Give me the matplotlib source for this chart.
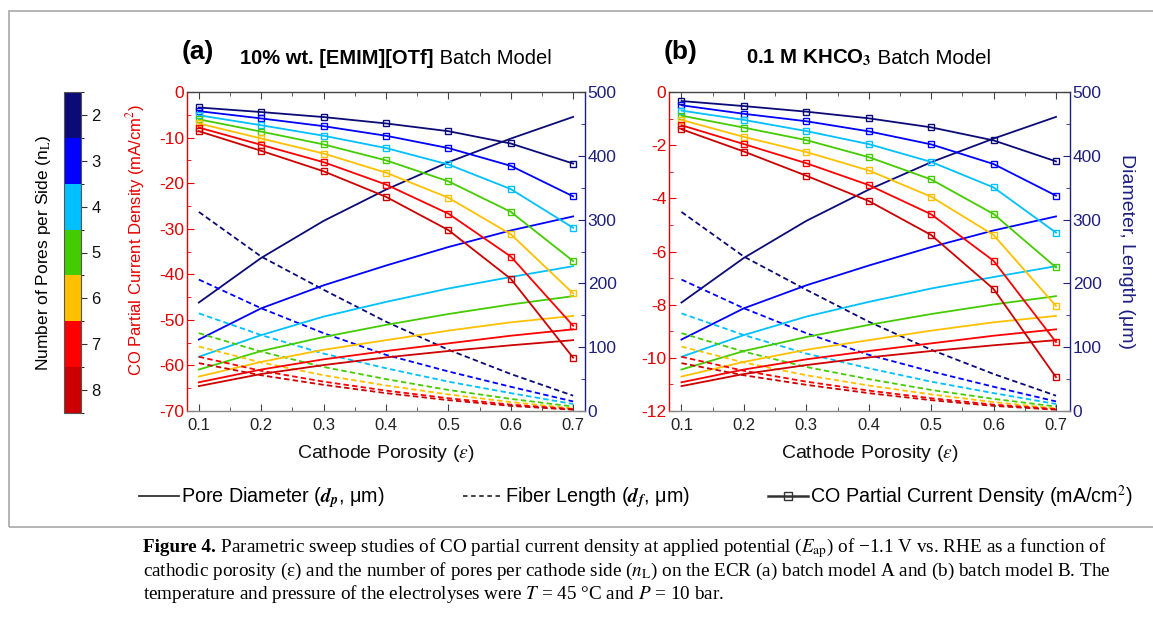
import numpy as np
import matplotlib
matplotlib.use("Agg")
import matplotlib.pyplot as plt
from matplotlib.colors import ListedColormap, BoundaryNorm
from matplotlib.lines import Line2D
from matplotlib.patches import Rectangle
from matplotlib.ticker import MultipleLocator
import matplotlib.colorbar as mcolorbar

plt.rcParams['font.family'] = ['Liberation Sans', 'DejaVu Sans']
plt.rcParams['mathtext.fontset'] = 'stix'

# data
porosity = [0.1, 0.2, 0.3, 0.4, 0.5, 0.6, 0.7]
n_pores = [2, 3, 4, 5, 6, 7, 8]
colors = ['#0b0b78', '#0000ff', '#00c0ff', '#44cc00', '#ffc000', '#ff0000', '#cc0000']

# CO partial current density (mA/cm2), panel (a), one row per n_L
cd_a = [[-3.4, -4.4, -5.5, -6.9, -8.6, -11.3, -15.7],
        [-4.2, -5.8, -7.5, -9.6, -12.3, -16.2, -22.9],
        [-5.1, -7.3, -9.6, -12.3, -15.9, -21.3, -29.8],
        [-6.0, -8.7, -11.5, -15.0, -19.6, -26.3, -37.1],
        [-6.9, -10.2, -13.5, -17.7, -23.2, -31.2, -44.2],
        [-7.8, -11.6, -15.4, -20.3, -26.7, -36.1, -51.3],
        [-8.6, -12.9, -17.4, -23.0, -30.3, -41.0, -58.3]]

# CO partial current density (mA/cm2), panel (b)
cd_b = [[-0.34, -0.53, -0.74, -0.99, -1.33, -1.82, -2.61],
        [-0.50, -0.82, -1.10, -1.48, -1.97, -2.71, -3.90],
        [-0.70, -1.05, -1.47, -1.96, -2.63, -3.59, -5.29],
        [-0.89, -1.34, -1.81, -2.45, -3.29, -4.59, -6.60],
        [-1.05, -1.69, -2.26, -2.95, -3.94, -5.38, -8.05],
        [-1.25, -1.96, -2.68, -3.50, -4.60, -6.35, -9.41],
        [-1.40, -2.24, -3.15, -4.10, -5.38, -7.41, -10.73]]

# pore diameter d_p (um)
pore_diam = [[170, 240, 298, 347, 390, 427, 461],
             [112, 161, 197, 228, 257, 283, 305],
             [85, 119, 148, 171, 192, 210, 227],
             [65, 94, 116, 135, 152, 167, 180],
             [54, 77, 96, 111, 126, 139, 149],
             [45, 65, 81, 94, 106, 118, 128],
             [39, 58, 72, 84, 94, 103, 111]]

# fiber length d_f (um)
fiber_len = [[312, 242, 190, 140, 96, 58, 24],
             [206, 161, 122, 88, 62, 38, 15],
             [153, 119, 90, 67, 46, 28, 11],
             [122, 93, 69, 50, 33, 19, 7],
             [101, 76, 56, 40, 26, 14, 4],
             [85, 63, 46, 32, 20, 10, 3],
             [75, 56, 41, 28, 17, 8, 2]]

RED = '#e60000'
NAVY = '#1f1f80'
W, H = 1153, 624

fig = plt.figure(figsize=(W / 100, H / 100), dpi=100)


def panel(px_left, px_right, cd, ylim, ymajor, yminor, xlim, left_label, right_label):
    ax = fig.add_axes([px_left / W, (H - 411) / H, (px_right - px_left) / W, 319 / H])
    ax2 = ax.twinx()
    for i in range(len(n_pores)):
        ax2.plot(porosity, pore_diam[i], '-', color=colors[i], lw=1.3)
        ax2.plot(porosity, fiber_len[i], '--', dashes=(3, 1.8), color=colors[i], lw=1.3)
        ax.plot(porosity, cd[i], '-', marker='s', mfc='none', mec=colors[i], ms=5, mew=1.0,
                color=colors[i], lw=1.3)
    ax.set_zorder(ax2.get_zorder() + 1)
    ax.patch.set_visible(False)

    ax.set_xlim(*xlim)
    ax.set_ylim(*ylim)
    ax2.set_ylim(0, 500)
    ax.xaxis.set_major_locator(MultipleLocator(0.1))
    ax.xaxis.set_minor_locator(MultipleLocator(0.05))
    ax.yaxis.set_major_locator(MultipleLocator(ymajor))
    ax.yaxis.set_minor_locator(MultipleLocator(yminor))
    ax2.yaxis.set_major_locator(MultipleLocator(100))
    ax2.yaxis.set_minor_locator(MultipleLocator(50))
    ax.xaxis.set_major_formatter(matplotlib.ticker.FormatStrFormatter('%.1f'))
    ax.yaxis.set_major_formatter(matplotlib.ticker.FuncFormatter(lambda v, p: '%d' % v if v == 0 else '-%d' % abs(v)))

    for a in (ax, ax2):
        for s in a.spines.values():
            s.set_linewidth(1.0)
    ax.spines['left'].set_color(RED)
    ax.spines['top'].set_color('#444444')
    ax.spines['bottom'].set_color('#888888')
    ax.spines['right'].set_visible(False)
    ax2.spines['right'].set_color(NAVY)
    for s in ('left', 'top', 'bottom'):
        ax2.spines[s].set_visible(False)

    ax.tick_params(axis='x', which='both', direction='in', top=True, colors='#444444',
                   labelcolor='#222222', labelsize=12, pad=5)
    ax.tick_params(axis='x', which='major', length=5)
    ax.tick_params(axis='x', which='minor', length=3)
    ax.tick_params(axis='y', which='both', direction='in', colors=RED, labelsize=12.5, pad=2)
    ax.tick_params(axis='y', which='major', length=5)
    ax.tick_params(axis='y', which='minor', length=3)
    ax2.tick_params(axis='y', which='both', direction='in', colors=NAVY, labelsize=12.5, pad=2)
    ax2.tick_params(axis='y', which='major', length=5)
    ax2.tick_params(axis='y', which='minor', length=3)

    ax.set_xlabel('Cathode Porosity ($\\varepsilon$)', fontsize=14, color='#111111', labelpad=7)
    if left_label:
        ax.set_ylabel('CO Partial Current Density (mA/cm$^2$)', fontsize=12, color=RED)
        ax.yaxis.set_label_coords(-0.10, 0.536)
    if right_label:
        ax2.set_ylabel('Diameter, Length (\u03bcm)', fontsize=14, color=NAVY, rotation=270, labelpad=24)
    return ax, ax2


panel(187, 585, cd_a, (-70, 0), 10, 5, (0.081, 0.719), True, False)
panel(669, 1070, cd_b, (-12, 0), 2, 1, (0.080, 0.7224), False, True)

# colour bar for n_L
cmap = ListedColormap(colors)
norm = BoundaryNorm(np.arange(1.5, 9.5, 1), cmap.N)
cax = fig.add_axes([64 / W, (H - 413) / H, 17 / W, 321 / H])
cb = mcolorbar.ColorbarBase(cax, cmap=cmap, norm=norm, ticks=n_pores, orientation='vertical')
cax.invert_yaxis()
cb.outline.set_edgecolor('#555555')
cb.outline.set_linewidth(0.8)
cax.tick_params(length=4, width=0.8, labelsize=12, colors='#333333', labelcolor='#111111')
cax.yaxis.set_label_position('left')
cax.set_ylabel('Number of Pores per Side (n$_\\mathrm{L}$)', fontsize=12.5, labelpad=8)

# panel titles
fig.canvas.draw()
r = fig.canvas.get_renderer()


def two_part(x, y, bold, normal, size):
    t = fig.text(x / W, 1 - y / H, bold, fontsize=size, fontweight='bold', va='center', ha='left')
    bb = t.get_window_extent(r)
    fig.text(bb.x1 / W, 1 - y / H, normal, fontsize=size, va='center', ha='left')


fig.text(182 / W, 1 - 52 / H, '(a)', fontsize=19, fontweight='bold', va='center', ha='left')
two_part(240, 58, '10% wt. [EMIM][OTf]', ' Batch Model', 14.5)
fig.text(664 / W, 1 - 52 / H, '(b)', fontsize=19, fontweight='bold', va='center', ha='left')
two_part(746, 58, '0.1 M KHCO$_\\mathbf{3}$', ' Batch Model', 14.7)

# legend
handles = [Line2D([], [], color='#333333', lw=1.3, ls='-'),
           Line2D([], [], color='#333333', lw=1.3, ls='--', dashes=(2.5, 2)),
           Line2D([], [], color='#333333', lw=1.8, marker='s', mfc='none', ms=6, mew=1.0)]
labels = ['Pore Diameter ($\\mathbfit{d}_{\\mathbfit{p}}$, \u03bcm)',
          'Fiber Length ($\\mathbfit{d}_{\\mathbfit{f}}$, \u03bcm)',
          'CO Partial Current Density (mA/cm$^2$)']
fig.legend(handles, labels, loc='center', bbox_to_anchor=(636 / W, 1 - 497 / H), ncol=3,
           frameon=False, fontsize=14.2, handlelength=2.0, handletextpad=0.1, columnspacing=4.0)

# border around the figure
fig.add_artist(Rectangle((9 / W, 1 - 527 / H), 1.2, (527 - 11) / H, transform=fig.transFigure,
                         fill=False, edgecolor='#a8a8a8', lw=1.2))

# caption
cap_size = 13.8
serif = ['Liberation Serif', 'DejaVu Serif']
t = fig.text(143 / W, 1 - 548 / H, 'Figure 4.', fontsize=cap_size, fontweight='bold',
             family=serif, va='center', ha='left')
bb = t.get_window_extent(r)
fig.text(bb.x1 / W, 1 - 548 / H,
         ' Parametric sweep studies of CO partial current density at applied potential ($E_{\\mathrm{ap}}$) '
         'of \u22121.1 V vs. RHE as a function of',
         fontsize=cap_size, family=serif, va='center', ha='left')
fig.text(143 / W, 1 - 571 / H,
         'cathodic porosity (\u03b5) and the number of pores per cathode side ($n_{\\mathrm{L}}$) on the ECR '
         '(a) batch model A and (b) batch model B. The',
         fontsize=cap_size, family=serif, va='center', ha='left')
fig.text(143 / W, 1 - 594 / H,
         'temperature and pressure of the electrolyses were $T$ = 45 \u00b0C and $P$ = 10 bar.',
         fontsize=cap_size, family=serif, va='center', ha='left')

fig.savefig('out.png', dpi=100)
